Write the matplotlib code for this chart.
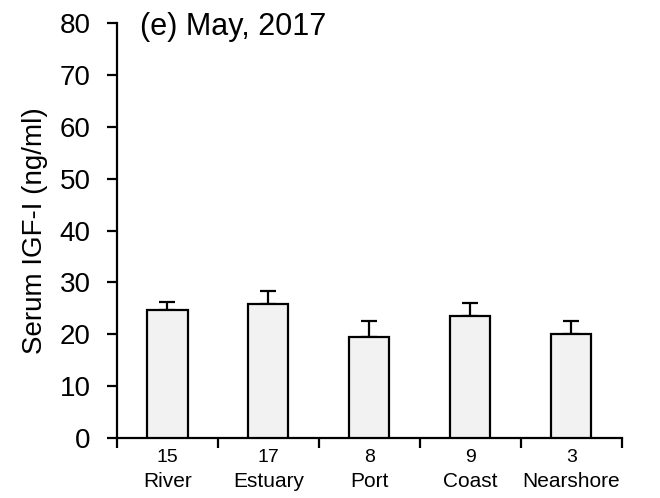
import matplotlib
matplotlib.use("Agg")
import matplotlib.pyplot as plt
from matplotlib.ticker import FixedLocator

plt.rcParams['font.family'] = ['Liberation Sans', 'DejaVu Sans']

sites = ['River', 'Estuary', 'Port', 'Coast', 'Nearshore']
n_fish = ['15', '17', '8', '9', '3']
igf_mean = [24.7, 25.8, 19.5, 23.6, 20.1]
igf_se = [1.6, 2.5, 3.0, 2.5, 2.4]

fig = plt.figure(figsize=(6.6, 4.98), dpi=100)
ax = fig.add_axes([0.177, 0.12, 0.765, 0.834])

x = list(range(len(sites)))
ax.bar(x, igf_mean, width=0.4, color='#f2f2f2', edgecolor='black', linewidth=1.6, zorder=3)
ax.errorbar(x, igf_mean, yerr=[[0]*len(igf_se), igf_se], fmt='none', ecolor='black',
            elinewidth=1.6, capsize=6, capthick=1.6, zorder=2)

ax.set_xlim(-0.5, len(sites) - 0.5)
ax.set_ylim(0, 80)
ax.set_yticks(range(0, 81, 10))
ax.tick_params(axis='y', direction='out', length=7, width=1.6, labelsize=20, pad=12)

# category boundaries get the ticks, counts and site names sit under the bars
ax.xaxis.set_major_locator(FixedLocator(x))
ax.set_xticklabels(n_fish, fontsize=14)
ax.tick_params(axis='x', which='major', length=0, pad=8)
ax.xaxis.set_minor_locator(FixedLocator([i - 0.5 for i in range(len(sites) + 1)]))
ax.tick_params(axis='x', which='minor', direction='out', length=7, width=1.6)
for i, s in enumerate(sites):
    ax.text(i, -0.105, s, transform=ax.get_xaxis_transform(), ha='center', va='center', fontsize=15)

for side in ['top', 'right']:
    ax.spines[side].set_visible(False)
for side in ['left', 'bottom']:
    ax.spines[side].set_linewidth(1.6)

ax.set_ylabel('Serum IGF-I (ng/ml)', fontsize=20, labelpad=8)
ax.text(0.046, 0.971, '(e) May, 2017', transform=ax.transAxes, fontsize=22, va='baseline')

fig.savefig('out.png', dpi=100)
